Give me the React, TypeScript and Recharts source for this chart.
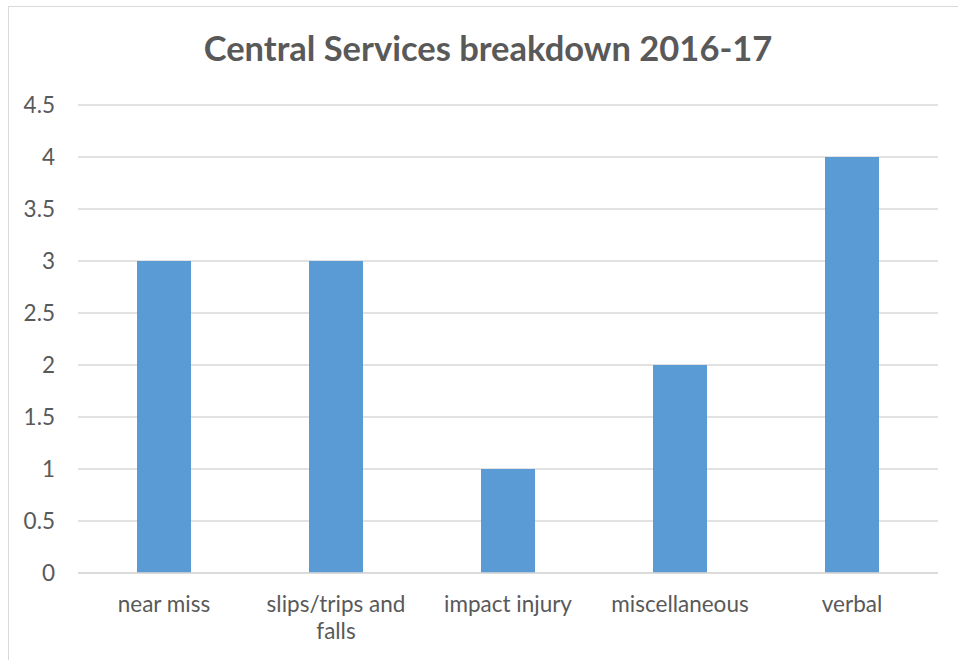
import React from 'react';
import { BarChart, Bar, XAxis, YAxis, CartesianGrid } from 'recharts';

const categories = ['near miss', 'slips/trips and falls', 'impact injury', 'miscellaneous', 'verbal'];
const counts = [3, 3, 1, 2, 4];
const yTicks = [0, 0.5, 1, 1.5, 2, 2.5, 3, 3.5, 4, 4.5];

const data = categories.map((category, i) => ({ category, count: counts[i] }));

const FONT = 'Lato, "Open Sans", sans-serif';
const TEXT_COLOR = '#595959';
const MAX_CHARS = 16;

// greedy word wrap by character count
const wrap = (label: string) => {
  const lines: string[] = [];
  let cur = '';
  label.split(' ').forEach((w) => {
    const next = cur ? cur + ' ' + w : w;
    if (next.length > MAX_CHARS && cur) {
      lines.push(cur);
      cur = w;
    } else {
      cur = next;
    }
  });
  if (cur) lines.push(cur);
  return lines;
};

const CategoryTick = (props: any) => {
  const { x, y, payload } = props;
  const lines = wrap(String(payload.value));
  return (
    <text x={x} y={y + 39} textAnchor="middle" fontSize={22.5} fontFamily={FONT} fill={TEXT_COLOR}>
      {lines.map((line, i) => (
        <tspan key={i} x={x} dy={i === 0 ? 0 : 27}>
          {line}
        </tspan>
      ))}
    </text>
  );
};

const App: React.FC = () => {
  return (
    <div style={{ position: 'absolute', left: 0, top: 0, width: 958, height: 660, overflow: 'hidden', background: '#fff' }}>
      <div
        style={{
          position: 'absolute',
          left: 8,
          top: 6,
          width: 1000,
          height: 700,
          border: '1.5px solid #d9d9d9',
        }}
      />
      <div
        style={{
          position: 'absolute',
          left: 9,
          top: 27,
          width: 958,
          textAlign: 'center',
          fontFamily: FONT,
          fontWeight: 'bold',
          fontSize: 34.5,
          color: TEXT_COLOR,
        }}
      >
        Central Services breakdown 2016-17
      </div>
      <div style={{ position: 'absolute', left: 0, top: 0 }}>
        <BarChart width={958} height={660} data={data} margin={{ top: 105, right: 20, bottom: 27, left: 28 }}>
          <CartesianGrid vertical={false} stroke="#d9d9d9" strokeWidth={1.5} />
          <XAxis
            dataKey="category"
            height={60}
            axisLine={{ stroke: '#d9d9d9', strokeWidth: 1.5 }}
            tickLine={false}
            tickSize={0}
            tickMargin={0}
            interval={0}
            tick={<CategoryTick />}
          />
          <YAxis
            width={50}
            domain={[0, 4.5]}
            ticks={yTicks}
            axisLine={false}
            tickLine={false}
            tickSize={0}
            tickMargin={23}
            tick={{ fontSize: 22.5, fill: TEXT_COLOR, fontFamily: FONT }}
          />
          <Bar dataKey="count" fill="#5b9bd5" barSize={54} isAnimationActive={false} />
        </BarChart>
      </div>
    </div>
  );
};

export default App;
